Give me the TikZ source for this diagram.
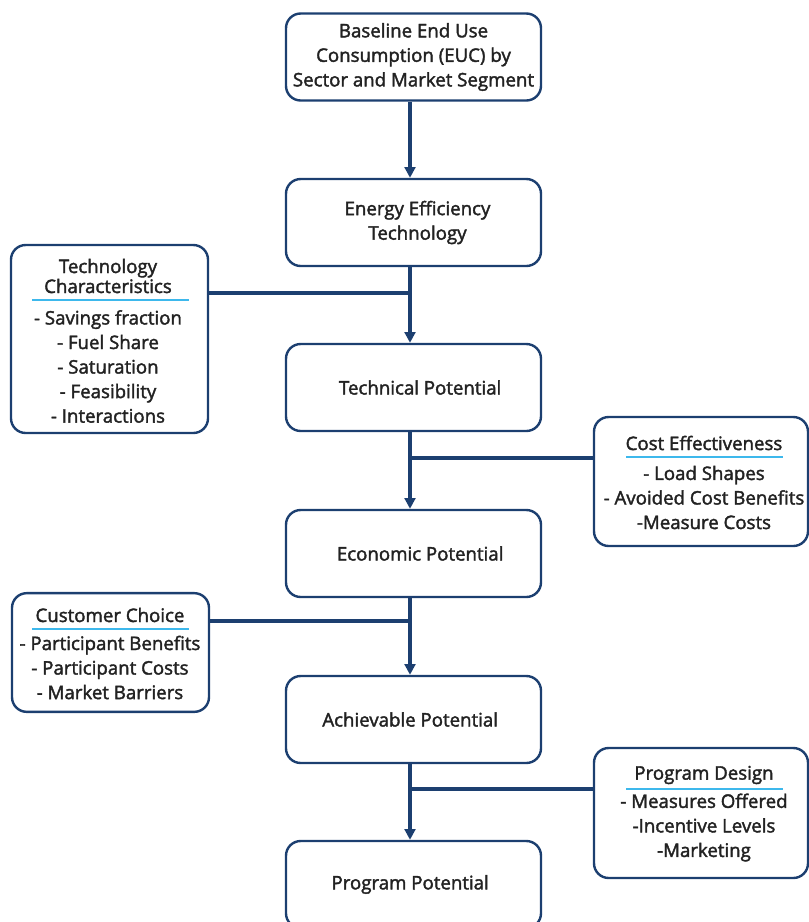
\documentclass[tikz,border=0pt]{standalone}
\usepackage{fontspec}
\setmainfont{Open Sans}[BoldFont={Open Sans}, BoldFeatures={FakeBold=2}]
\usetikzlibrary{arrows.meta, positioning, calc}
\definecolor{navy}{HTML}{1C3F70}
\definecolor{skyline}{HTML}{3DB8EC}
\definecolor{inkgray}{HTML}{222222}

\begin{document}
\begin{tikzpicture}[x=0.75pt, y=-0.75pt,
  stage/.style={rectangle, draw=navy, line width=1.8pt, rounded corners=11pt,
    minimum width=191.25pt, minimum height=65.25pt, align=center,
    text=inkgray, font=\fontsize{14}{18.4}\selectfont\bfseries},
  factor/.style={rectangle, draw=navy, line width=1.8pt, rounded corners=11pt},
  head/.style={align=center, text=inkgray, inner sep=0pt,
    font=\fontsize{14}{13.5}\selectfont\bfseries},
  items/.style={align=center, text=inkgray, inner sep=0pt,
    font=\fontsize{14}{18.4}\selectfont\bfseries},
  flow/.style={-{Triangle[length=8pt, width=8pt]}, line width=2.7pt, draw=navy},
  feed/.style={line width=2.7pt, draw=navy},
  uline/.style={line width=1.4pt, draw=skyline}
]
  \useasboundingbox (0,0) rectangle (809,922);
  \clip (0,0) rectangle (809,922);

  % Stages
  \node[stage] (euc)        at (413.5,57)    {Baseline End Use\\Consumption (EUC) by\\Sector and Market Segment};
  \node[stage] (eetech)     at (413.5,222.5) {\hspace*{6pt}Energy Efficiency\\\hspace*{6pt}Technology};
  \node[stage] (technical)  at (413.5,387.5) {\hspace*{10pt}Technical Potential};
  \node[stage] (economic)   at (413.5,553.5) {\hspace*{10pt}Economic Potential};
  \node[stage] (achievable) at (413.5,719.5) {Achievable Potential\hspace*{5pt}};
  \node[stage] (program)    at (413.5,884.5) {Program Potential\hspace*{5pt}};

  % Input boxes
  \node[factor, minimum width=147.75pt, minimum height=141pt]   (techchar) at (109.5,339)   {};
  \node[factor, minimum width=160.5pt,  minimum height=96.75pt] (costeff)  at (701,481.5)   {};
  \node[factor, minimum width=147.75pt, minimum height=89pt]    (custch)   at (110.5,652.5) {};
  \node[factor, minimum width=160.5pt,  minimum height=97.5pt]  (progdes)  at (701,813)     {};

  \node[head]  (techchar-t) at (108,276)   {Technology\\Characteristics};
  \node[items] (techchar-l) at (108,366.5) {- Savings fraction\\- Fuel Share\\- Saturation\\- Feasibility\\- Interactions};
  \node[head]  (costeff-t)  at (704,443)   {Cost Effectiveness};
  \node[items] (costeff-l)  at (704,497.5) {- Load Shapes\\- Avoided Cost Benefits\\-Measure Costs};
  \node[head]  (custch-t)   at (110,615)   {Customer Choice};
  \node[items] (custch-l)   at (110,667.5) {- Participant Benefits\\- Participant Costs\\- Market Barriers};
  \node[head]  (progdes-t)  at (704,775)   {Program Design};
  \node[items] (progdes-l)  at (704,827.5) {- Measures Offered\\-Incentive Levels\\-Marketing};

  \draw[uline] (32,300) -- (189,300);
  \draw[uline] (626,457) -- (783,457);
  \draw[uline] (32,629) -- (189,629);
  \draw[uline] (626,789) -- (783,789);

  % Flow
  \coordinate (spine) at (410,0);
  \coordinate (j1) at (410,293);
  \coordinate (j2) at (410,458);
  \coordinate (j3) at (410,621);
  \coordinate (j4) at (410,789);
  \foreach \a/\b in {euc/eetech, eetech/technical, technical/economic, economic/achievable, achievable/program}
    \draw[flow] (\a.south -| spine) -- (\b.north -| spine);

  \draw[feed] (techchar.east |- j1) -- (j1);
  \draw[feed] (costeff.west |- j2) -- (j2);
  \draw[feed] (custch.east |- j3) -- (j3);
  \draw[feed] (progdes.west |- j4) -- (j4);
\end{tikzpicture}
\end{document}
